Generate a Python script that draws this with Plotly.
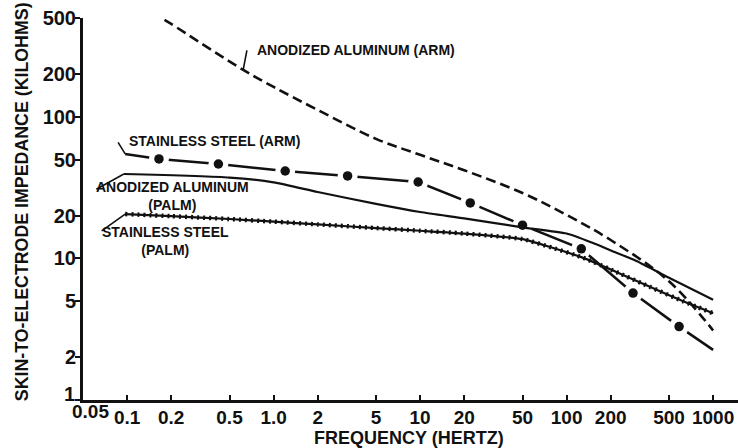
import math
import plotly.graph_objects as go

# Frequency axis ticks (Hz) and impedance ticks (kilohms); the corner labels
# "0.05" and "1" are set as separate text so they sit clear of each other
x_tickvals = [0.05, 0.1, 0.2, 0.5, 1, 2, 5, 10, 20, 50, 100, 200, 500, 1000]
x_ticktext = ["", "0.1", "0.2", "0.5", "1.0", "2", "5", "10",
              "20", "50", "100", "200", "500", "1000"]
y_tickvals = [1, 2, 5, 10, 20, 50, 100, 200, 500]
y_ticktext = ["", "2", "5", "10", "20", "50", "100", "200", "500"]
x_corner_label = "0.05"
y_corner_label = "1"

# Anodized aluminum electrode on the arm (dashed curve)
al_arm_hz = [0.18, 0.2, 0.62, 1, 2, 5, 10, 20, 50, 100, 200, 500, 1000]
al_arm_kohm = [485, 454, 215, 163, 112, 70, 54, 42, 29, 20.3, 13.5, 6.9, 3.1]

# Stainless steel electrode on the arm (long dash with dots)
ss_arm_hz = [0.097, 0.165, 0.42, 1.2, 3.2, 9.7, 22, 50, 126, 284, 586, 1000]
ss_arm_kohm = [54.8, 50.5, 46.5, 41.5, 38.3, 34.7, 24.7, 17.2, 11.7, 5.7, 3.3, 2.26]
# measured points marked with dots
ss_arm_dot_hz = [0.165, 0.42, 1.2, 3.2, 9.7, 22, 50, 126, 284, 586]
ss_arm_dot_kohm = [50.5, 46.5, 41.5, 38.3, 34.7, 24.7, 17.2, 11.7, 5.7, 3.3]

# Anodized aluminum electrode on the palm (solid)
al_palm_hz = [0.095, 0.5, 1, 2, 5, 10, 20, 50, 100, 150, 200, 300, 500, 1000]
al_palm_kohm = [39.5, 37.3, 34.5, 29.5, 24.3, 21.3, 19.2, 16.6, 15.0, 12.9, 11.4,
                9.6, 7.3, 5.1]

# Stainless steel electrode on the palm (beaded)
ss_palm_hz = [0.097, 0.2, 0.5, 1, 2, 5, 10, 20, 50, 80, 130, 220, 370, 620, 1000]
ss_palm_kohm = [20.6, 19.9, 19.0, 18.2, 17.4, 16.4, 15.7, 15.0, 13.7, 11.9, 10.1,
                8.0, 6.3, 5.0, 4.1]

INK = "#111111"
FONT = "Liberation Sans"

fig = go.Figure()

# stainless steel (arm): solid stroke, white halos open gaps around the dots
fig.add_trace(go.Scatter(x=ss_arm_hz, y=ss_arm_kohm, mode="lines",
                         line=dict(color=INK, width=2.5), hoverinfo="skip"))
fig.add_trace(go.Scatter(x=ss_arm_dot_hz, y=ss_arm_dot_kohm, mode="markers",
                         marker=dict(color="white", size=20), hoverinfo="skip"))
fig.add_trace(go.Scatter(x=ss_arm_dot_hz, y=ss_arm_dot_kohm, mode="markers",
                         marker=dict(color=INK, size=9.5), hoverinfo="skip"))

# anodized aluminum (palm)
fig.add_trace(go.Scatter(x=al_palm_hz, y=al_palm_kohm, mode="lines",
                         line=dict(color=INK, width=2.2, shape="spline", smoothing=0.6),
                         hoverinfo="skip"))

# stainless steel (palm): thin line with a bead pattern over it
fig.add_trace(go.Scatter(x=ss_palm_hz, y=ss_palm_kohm, mode="lines",
                         line=dict(color=INK, width=2.2, shape="spline", smoothing=0.6),
                         hoverinfo="skip"))
fig.add_trace(go.Scatter(x=ss_palm_hz, y=ss_palm_kohm, mode="lines",
                         line=dict(color=INK, width=4.5, dash="2px,4px",
                                   shape="spline", smoothing=0.6),
                         hoverinfo="skip"))

# anodized aluminum (arm)
fig.add_trace(go.Scatter(x=al_arm_hz, y=al_arm_kohm, mode="lines",
                         line=dict(color=INK, width=2.6, dash="10px,5px",
                                   shape="spline", smoothing=1.0),
                         hoverinfo="skip"))

lbl_font = dict(family=FONT, size=14, color=INK, weight="bold")
tick_font = dict(family=FONT, size=19, color=INK, weight="bold")


def label(text, x, y, anchor="center"):
    fig.add_annotation(text=text, xref="paper", yref="paper", x=x, y=y,
                       xanchor=anchor, yanchor="middle", align="center",
                       showarrow=False, font=lbl_font)


def leader(hz, kohm, ax, ay):
    fig.add_annotation(text="", x=math.log10(hz), y=math.log10(kohm),
                       ax=ax, ay=ay, showarrow=True, arrowhead=0,
                       arrowwidth=1.6, arrowcolor=INK)


label("ANODIZED ALUMINUM (ARM)", 0.262, 0.916, "left")
label("STAINLESS STEEL (ARM)", 0.0672, 0.678, "left")
label("ANODIZED ALUMINUM<br>(PALM)", 0.136, 0.535)
label("STAINLESS STEEL<br>(PALM)", 0.126, 0.4175)

leader(al_arm_hz[2], al_arm_kohm[2], 4, -21)
leader(ss_arm_hz[0], ss_arm_kohm[0], -8, -13)
leader(al_palm_hz[0], al_palm_kohm[0], -29, 16)
leader(ss_palm_hz[0], ss_palm_kohm[0], -25, 18)

# corner tick labels
fig.add_annotation(text=x_corner_label, xref="paper", yref="paper",
                   x=0.0107, y=-0.029, xanchor="center", yanchor="middle",
                   showarrow=False, font=tick_font)
fig.add_annotation(text=y_corner_label, xref="paper", yref="paper",
                   x=-0.0092, y=0.016, xanchor="right", yanchor="middle",
                   showarrow=False,
                   font=dict(family=FONT, size=20, color=INK, weight="bold"))

fig.add_annotation(text="FREQUENCY (HERTZ)", xref="paper", yref="paper",
                   x=0.498, y=-0.1, xanchor="center", yanchor="middle",
                   showarrow=False,
                   font=dict(family=FONT, size=18, color=INK, weight="bold"))
fig.add_annotation(text="SKIN-TO-ELECTRODE IMPEDANCE (KILOHMS)", xref="paper",
                   yref="paper", x=-0.093, y=0.518, xanchor="center",
                   yanchor="middle", textangle=-90, showarrow=False,
                   font=dict(family=FONT, size=17.8, color=INK, weight="bold"))

fig.update_xaxes(type="log", range=[math.log10(0.05), 3.17],
                 tickmode="array", tickvals=x_tickvals, ticktext=x_ticktext,
                 ticks="inside", ticklen=5, tickwidth=2, tickcolor=INK,
                 ticklabelstandoff=-2,
                 showline=True, linewidth=3, linecolor=INK, showgrid=False,
                 zeroline=False, tickfont=tick_font, automargin=False)
fig.update_yaxes(type="log", range=[0, math.log10(500)],
                 tickmode="array", tickvals=y_tickvals, ticktext=y_ticktext,
                 ticks="outside", ticklen=5, tickwidth=2, tickcolor=INK,
                 ticklabelstandoff=-5,
                 showline=True, linewidth=3, linecolor=INK, showgrid=False,
                 zeroline=False, tickfont=dict(family=FONT, size=20, color=INK,
                                               weight="bold"),
                 automargin=False)

fig.update_layout(width=738, height=448,
                  margin=dict(l=83, r=0, t=18, b=48),
                  paper_bgcolor="white", plot_bgcolor="white",
                  showlegend=False)

fig.write_html("out.html")
